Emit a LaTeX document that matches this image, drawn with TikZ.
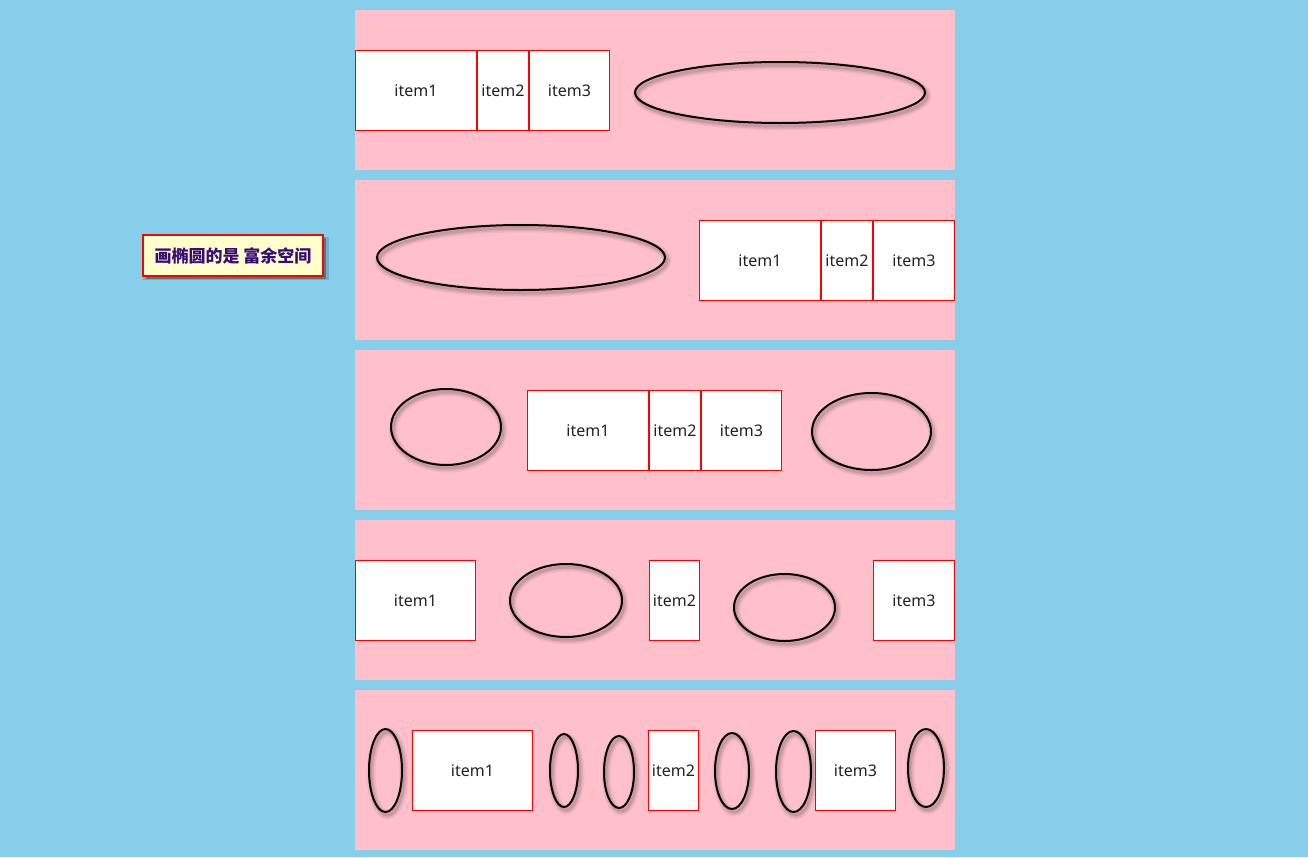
\documentclass[tikz,border=0pt]{standalone}
\usepackage{fontspec}
\setmainfont{Noto Sans}
\newfontfamily\cjk{Noto Sans CJK SC}
\usetikzlibrary{shapes.geometric,shadows}
\definecolor{sky}{HTML}{87CEEB}
\definecolor{panelpink}{HTML}{FFC0CB}
\definecolor{labelfill}{HTML}{FFFFCC}
\definecolor{labeltext}{HTML}{3A0A7A}
\definecolor{itemtext}{HTML}{222222}
\tikzset{
  panel/.style={fill=panelpink, draw=none, minimum width=600pt, minimum height=160pt, anchor=north west, inner sep=0pt, outer sep=0pt},
  itembox/.style={draw=red, line width=1pt, fill=white, minimum height=80pt, anchor=north west, inner sep=0pt, outer sep=0.5pt, text=itemtext, font=\fontsize{16}{19}\selectfont},
  oval/.style={ellipse, draw=black, line width=2pt, inner sep=0pt, outer sep=0pt,
    drop shadow={shadow xshift=2pt, shadow yshift=-3pt, fill=none, draw=black, line width=9pt, opacity=0.05},
    drop shadow={shadow xshift=2pt, shadow yshift=-3pt, fill=none, draw=black, line width=6pt, opacity=0.07},
    drop shadow={shadow xshift=2pt, shadow yshift=-3pt, fill=none, draw=black, line width=3pt, opacity=0.10}},
  note/.style={draw=red, line width=2pt, fill=labelfill, text=labeltext, minimum width=180pt, minimum height=41pt, inner sep=0pt,
    font=\cjk\bfseries\fontsize{17}{20}\selectfont,
    drop shadow={shadow xshift=3pt, shadow yshift=-3pt, opacity=0.15, fill=black, shadow scale=1.03},
    drop shadow={shadow xshift=3pt, shadow yshift=-3pt, opacity=0.45, fill=black!80}}
}
\begin{document}
\begin{tikzpicture}[x=1pt,y=-1pt]
\useasboundingbox (0,0) rectangle (1308,857);
\fill[sky] (0,0) rectangle (1308,857);
% panels
\node[panel] (pA) at (355,10) {};
\node[panel] (pB) at (355,180) {};
\node[panel] (pC) at (355,350) {};
\node[panel] (pD) at (355,520) {};
\node[panel] (pE) at (355,690) {};
% label
\node[note] (lbl) at (233,255.5) {画椭圆的是 富余空间};
% panel 1
\node[itembox, minimum width=121pt] (a1) at (355,50) {item1};
\node[itembox, minimum width=51pt] (a2) at (477,50) {item2};
\node[itembox, minimum width=80pt] (a3) at (529,50) {item3};
\node[oval, minimum width=290pt, minimum height=61pt] (ea) at (780,92.5) {};
% panel 2
\node[oval, minimum width=288pt, minimum height=65pt] (eb) at (521,257.5) {};
\node[itembox, minimum width=121pt] (b1) at (699,220) {item1};
\node[itembox, minimum width=51pt] (b2) at (821,220) {item2};
\node[itembox, minimum width=81pt] (b3) at (873,220) {item3};
% panel 3
\node[oval, minimum width=110pt, minimum height=76pt] (ec1) at (446,427) {};
\node[itembox, minimum width=121pt] (c1) at (527,390) {item1};
\node[itembox, minimum width=51pt] (c2) at (649,390) {item2};
\node[itembox, minimum width=80pt] (c3) at (701,390) {item3};
\node[oval, minimum width=119pt, minimum height=77pt] (ec2) at (871.5,431.5) {};
% panel 4
\node[itembox, minimum width=120pt] (d1) at (355,560) {item1};
\node[oval, minimum width=112pt, minimum height=73pt] (ed1) at (566,600.5) {};
\node[itembox, minimum width=50pt] (d2) at (649,560) {item2};
\node[oval, minimum width=101pt, minimum height=67pt] (ed2) at (784.5,607.5) {};
\node[itembox, minimum width=81pt] (d3) at (873,560) {item3};
% panel 5
\node[oval, minimum width=33pt, minimum height=83pt] (ee1) at (385.5,770.5) {};
\node[itembox, minimum width=120pt] (e1) at (412,730) {item1};
\node[oval, minimum width=28pt, minimum height=73pt] (ee2) at (564,770.5) {};
\node[oval, minimum width=30pt, minimum height=72pt] (ee3) at (619,772) {};
\node[itembox, minimum width=50pt] (e2) at (648,730) {item2};
\node[oval, minimum width=34pt, minimum height=76pt] (ee4) at (732,771) {};
\node[oval, minimum width=35pt, minimum height=81pt] (ee5) at (793.5,771.5) {};
\node[itembox, minimum width=80pt] (e3) at (815,730) {item3};
\node[oval, minimum width=36pt, minimum height=78pt] (ee6) at (926,768) {};
\end{tikzpicture}
\end{document}
